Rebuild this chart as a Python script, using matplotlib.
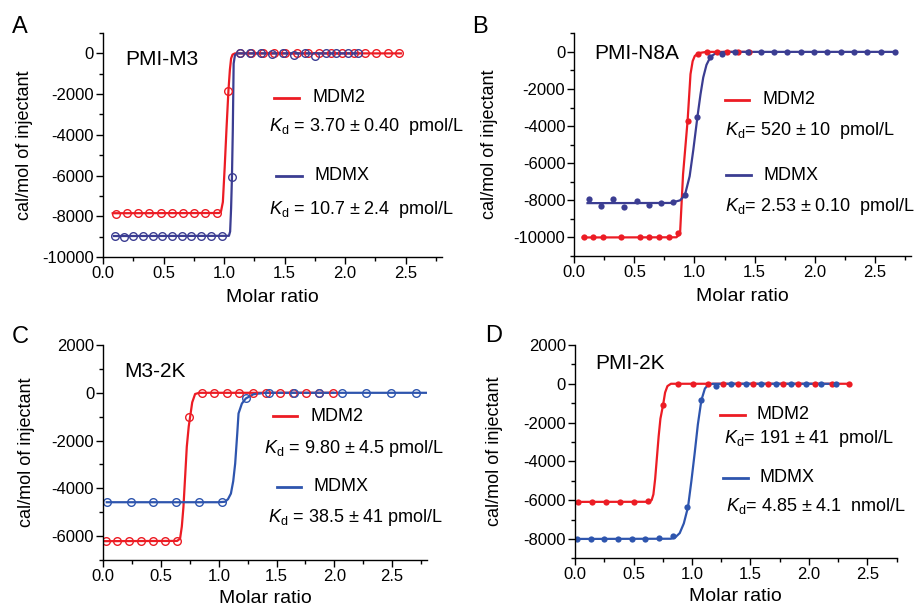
import matplotlib
matplotlib.use('Agg')
import matplotlib.pyplot as plt
from matplotlib.ticker import MultipleLocator

plt.rcParams['font.family'] = ['Liberation Sans', 'DejaVu Sans']
plt.rcParams['mathtext.fontset'] = 'custom'
plt.rcParams['mathtext.rm'] = 'Liberation Sans'
plt.rcParams['mathtext.it'] = 'Liberation Sans:italic'
plt.rcParams['axes.unicode_minus'] = False  # plain hyphen like the original

red = '#ec1c24'
navy = '#3b3d92'
blue = '#2e55ae'

# ---- panel A : PMI-M3 (open circles)
a_mdm2_x = [0.110, 0.202, 0.293, 0.384, 0.475, 0.566, 0.657, 0.751, 0.845, 0.939, 1.036,
            1.130, 1.224, 1.318, 1.412, 1.506, 1.600, 1.694, 1.788, 1.882, 1.976, 2.070,
            2.164, 2.258, 2.352, 2.445]
a_mdm2_y = [-7900, -7850, -7850, -7830, -7860, -7830, -7850, -7840, -7850, -7850, -1830,
            0, 0, 0, 0, 0, 0, 0, 0, 0, 0, 0, 0, 0, 0, 0]
a_mdmx_x = [0.097, 0.174, 0.251, 0.331, 0.409, 0.489, 0.569, 0.649, 0.729, 0.812, 0.895,
            0.981, 1.064, 1.134, 1.217, 1.308, 1.396, 1.485, 1.575, 1.666, 1.749, 1.838,
            1.926, 2.020, 2.108]
a_mdmx_y = [-8970, -9000, -8950, -8970, -8970, -8980, -8970, -8970, -8970, -8970, -8970,
            -8970, -6080, 0, 0, 0, -30, 0, -80, 0, -120, 0, 0, 0, 0]
a_mdm2_fit_x = [0.08, 0.96, 0.975, 0.99, 1.005, 1.02, 1.036, 1.048, 1.058, 1.07, 1.09, 2.46]
a_mdm2_fit_y = [-7850, -7840, -7750, -7300, -5600, -3700, -1830, -800, -250, -60, 0, 0]
a_mdmx_fit_x = [0.09, 1.04, 1.05, 1.058, 1.065, 1.072, 1.079, 1.09, 1.107, 2.11]
a_mdmx_fit_y = [-8970, -8960, -8750, -7600, -6080, -3800, -500, -80, 0, 0]

# ---- panel B : PMI-N8A (filled dots)
b_mdm2_x = [0.080, 0.158, 0.236, 0.391, 0.546, 0.624, 0.704, 0.785, 0.865, 0.948, 1.028,
            1.106, 1.186, 1.267, 1.366, 1.455]
b_mdm2_y = [-10000, -10000, -10000, -10000, -10000, -10000, -10000, -9970, -9785, -3740, -90,
            0, 0, 0, 0, 0]
b_mdmx_x = [0.122, 0.219, 0.319, 0.416, 0.519, 0.619, 0.718, 0.818, 0.920, 1.025, 1.133,
            1.233, 1.341, 1.449, 1.552, 1.663, 1.774, 1.885, 1.995, 2.106, 2.217, 2.328,
            2.439, 2.555, 2.666]
b_mdmx_y = [-7925, -8300, -7907, -8336, -8014, -8265, -8140, -8068, -7728, -3488, -268,
            -90, 0, 0, 0, 0, 0, 0, 0, 0, 0, 0, 0, 0, 0]
b_mdm2_fit_x = [0.07, 0.85, 0.88, 0.905, 0.943, 0.967, 0.985, 1.003, 1.04, 1.10, 1.46]
b_mdm2_fit_y = [-10000, -9990, -9800, -6600, -3700, -1200, -500, -215, -60, 0, 0]
b_mdmx_fit_x = [0.11, 0.80, 0.88, 0.92, 0.96, 0.99, 1.025, 1.05, 1.073, 1.10, 1.133, 1.18,
                1.25, 2.68]
b_mdmx_fit_y = [-8150, -8140, -8000, -7728, -6700, -5300, -3488, -2300, -1380, -700, -268,
                -60, 0, 0]

# ---- panel C : M3-2K (open circles)
c_mdm2_x = [0.023, 0.121, 0.225, 0.327, 0.431, 0.535, 0.642, 0.746, 0.853, 0.962, 1.069,
            1.179, 1.295, 1.410, 1.526, 1.642, 1.754, 1.870, 1.986]
c_mdm2_y = [-6210, -6210, -6210, -6210, -6210, -6210, -6210, -1005, 0, 0, 0,
            0, 0, 0, 0, 0, 0, 0, 0]
c_mdmx_x = [0.035, 0.237, 0.434, 0.630, 0.829, 1.029, 1.234, 1.439, 1.647, 1.864, 2.066,
            2.277, 2.491, 2.708]
c_mdmx_y = [-4580, -4580, -4580, -4580, -4580, -4580, -237, 0, 0, 0, 0, 0, 0, 0]
c_mdm2_fit_x = [0.01, 0.64, 0.665, 0.68, 0.694, 0.71, 0.723, 0.74, 0.752, 0.77, 0.795, 0.83, 1.99]
c_mdm2_fit_y = [-6210, -6200, -6100, -5600, -4780, -3400, -2260, -1400, -1006, -400, -50, 0, 0]
c_mdmx_fit_x = [0.03, 1.00, 1.055, 1.08, 1.105, 1.125, 1.142, 1.16, 1.171, 1.20, 1.234, 1.30,
                1.40, 2.80]
c_mdmx_fit_y = [-4580, -4580, -4560, -4450, -4218, -3700, -2960, -1700, -864, -450, -237, -60,
                0, 0]

# ---- panel D : PMI-2K (filled dots)
d_mdm2_x = [0.028, 0.148, 0.264, 0.384, 0.506, 0.628, 0.753, 0.881, 1.009, 1.136, 1.264,
            1.392, 1.520, 1.648, 1.776, 1.903, 2.050, 2.200, 2.338]
d_mdm2_y = [-6094, -6090, -6090, -6090, -6090, -6060, -1082, 0, 0, 0, 0,
            0, 0, 0, 0, 0, 0, 0, 0]
d_mdmx_x = [0.020, 0.136, 0.250, 0.369, 0.483, 0.602, 0.719, 0.838, 0.960, 1.080, 1.207,
            1.336, 1.464, 1.592, 1.719, 1.847, 1.975, 2.103, 2.231]
d_mdmx_y = [-8000, -8000, -7990, -7990, -7990, -7980, -7960, -7828, -6370, -858, -103,
            0, 0, 0, 0, 0, 0, 0, 0]
d_mdm2_fit_x = [0.02, 0.63, 0.655, 0.67, 0.685, 0.70, 0.715, 0.73, 0.753, 0.77, 0.79, 0.82, 2.35]
d_mdm2_fit_y = [-6090, -6085, -6000, -5700, -4900, -3800, -2700, -1800, -1082, -450, -120, 0, 0]
d_mdmx_fit_x = [0.02, 0.82, 0.86, 0.895, 0.93, 0.966, 0.995, 1.023, 1.05, 1.08, 1.11, 1.137,
                1.18, 2.24]
d_mdmx_fit_y = [-8000, -7990, -7900, -7700, -7200, -6350, -5000, -3570, -2100, -850, -250, -60,
                0, 0]

fig = plt.figure(figsize=(9.18, 6.08), dpi=100)


def style_axes(ax, xmax, ymin, ymax, ylab_x):
    ax.set_xlim(0, xmax)
    ax.set_ylim(ymin, ymax)
    ax.spines['top'].set_visible(False)
    ax.spines['right'].set_visible(False)
    for s in ['left', 'bottom']:
        ax.spines[s].set_linewidth(1.0)
    ax.xaxis.set_major_locator(MultipleLocator(0.5))
    ax.xaxis.set_minor_locator(MultipleLocator(0.25))
    ax.yaxis.set_major_locator(MultipleLocator(2000))
    ax.yaxis.set_minor_locator(MultipleLocator(1000))
    ax.xaxis.set_major_formatter(matplotlib.ticker.FormatStrFormatter('%.1f'))
    ax.tick_params(which='major', direction='out', length=5, width=1, labelsize=12, pad=1.5)
    ax.tick_params(which='minor', direction='out', length=3, width=1)
    ax.set_xlabel('Molar ratio', fontsize=14)
    ax.set_ylabel('cal/mol of injectant', fontsize=13)
    ax.yaxis.set_label_coords(ylab_x, 0.5)
    ax.xaxis.set_label_coords(0.5, -0.18)
    ax.xaxis.label.set_verticalalignment('center')
    ax.set_facecolor('none')


def legend_block(ax, c1, c2, seg1, seg2, lab1, lab2, kd1, kd2, kd1_xy, kd2_xy):
    ax.plot(seg1[:2], [seg1[2], seg1[2]], color=c1, lw=2, clip_on=False)
    ax.text(lab1[0], lab1[1], 'MDM2', fontsize=13, va='center')
    ax.text(kd1_xy[0], kd1_xy[1], kd1, fontsize=13, va='center')
    ax.plot(seg2[:2], [seg2[2], seg2[2]], color=c2, lw=2, clip_on=False)
    ax.text(lab2[0], lab2[1], 'MDMX', fontsize=13, va='center')
    ax.text(kd2_xy[0], kd2_xy[1], kd2, fontsize=13, va='center')


open_mk = dict(marker='o', ms=5.5, mfc='none', mew=1.0, ls='none')
fill_mk = dict(marker='o', ms=4.5, mew=0, ls='none')

# A
axA = fig.add_axes([0.1122, 0.5773, 0.3693, 0.3684])
style_axes(axA, 2.8, -10000, 1000, -0.207)
axA.plot(a_mdm2_fit_x, a_mdm2_fit_y, color=red, lw=1.6)
axA.plot(a_mdmx_fit_x, a_mdmx_fit_y, color=navy, lw=1.6)
axA.plot(a_mdm2_x, a_mdm2_y, color=red, **open_mk)
axA.plot(a_mdmx_x, a_mdmx_y, color=navy, **open_mk)
axA.text(0.18, -300, 'PMI-M3', fontsize=15, va='center')
legend_block(axA, red, navy, (1.41, 1.62, -2190), (1.43, 1.645, -6010),
             (1.73, -2190), (1.75, -6010),
             r'$K_{\rm d}$ = 3.70 ± 0.40  pmol/L', r'$K_{\rm d}$ = 10.7 ± 2.4  pmol/L',
             (1.37, -3610), (1.37, -7660))

# B
axB = fig.add_axes([0.6256, 0.5789, 0.3665, 0.3663])
style_axes(axB, 2.8, -11000, 1000, -0.226)
axB.plot(b_mdm2_fit_x, b_mdm2_fit_y, color=red, lw=1.6)
axB.plot(b_mdmx_fit_x, b_mdmx_fit_y, color=navy, lw=1.6)
axB.plot(b_mdm2_x, b_mdm2_y, color=red, **fill_mk)
axB.plot(b_mdmx_x, b_mdmx_y, color=navy, **fill_mk)
axB.text(0.164, -90, 'PMI-N8A', fontsize=15, va='center')
legend_block(axB, red, navy, (1.25, 1.455, -2577), (1.26, 1.47, -6640),
             (1.566, -2577), (1.577, -6640),
             r'$K_{\rm d}$= 520 ± 10  pmol/L', r'$K_{\rm d}$= 2.53 ± 0.10  pmol/L',
             (1.258, -4240), (1.25, -8357))

# C
axC = fig.add_axes([0.1125, 0.0789, 0.3523, 0.3536])
style_axes(axC, 2.8, -7000, 2000, -0.211)
axC.plot(c_mdm2_fit_x, c_mdm2_fit_y, color=red, lw=1.6)
axC.plot(c_mdmx_fit_x, c_mdmx_fit_y, color=blue, lw=1.6)
axC.plot(c_mdm2_x, c_mdm2_y, color=red, **open_mk)
axC.plot(c_mdmx_x, c_mdmx_y, color=blue, **open_mk)
axC.text(0.18, 880, 'M3-2K', fontsize=15, va='center')
legend_block(axC, red, blue, (1.47, 1.68, -977), (1.50, 1.71, -3935),
             (1.79, -977), (1.82, -3935),
             r'$K_{\rm d}$ = 9.80 ± 4.5 pmol/L', r'$K_{\rm d}$ = 38.5 ± 41 pmol/L',
             (1.39, -2330), (1.43, -5220))

# D
axD = fig.add_axes([0.6264, 0.0817, 0.3504, 0.3509])
style_axes(axD, 2.75, -9000, 2000, -0.225)
axD.plot(d_mdm2_fit_x, d_mdm2_fit_y, color=red, lw=1.6)
axD.plot(d_mdmx_fit_x, d_mdmx_fit_y, color=blue, lw=1.6)
axD.plot(d_mdm2_x, d_mdm2_y, color=red, **fill_mk)
axD.plot(d_mdmx_x, d_mdmx_y, color=blue, **fill_mk)
axD.text(0.17, 1064, 'PMI-2K', fontsize=15, va='center')
legend_block(axD, red, blue, (1.236, 1.449, -1597), (1.264, 1.477, -4858),
             (1.548, -1597), (1.577, -4858),
             r'$K_{\rm d}$= 191 ± 41  pmol/L', r'$K_{\rm d}$= 4.85 ± 4.1  nmol/L',
             (1.273, -2798), (1.293, -6318))

# panel letters
fig.text(0.013, 0.9457, 'A', fontsize=17)
fig.text(0.514, 0.9457, 'B', fontsize=17)
fig.text(0.013, 0.4359, 'C', fontsize=17)
fig.text(0.528, 0.4375, 'D', fontsize=17)

fig.savefig('out.png', dpi=100)
